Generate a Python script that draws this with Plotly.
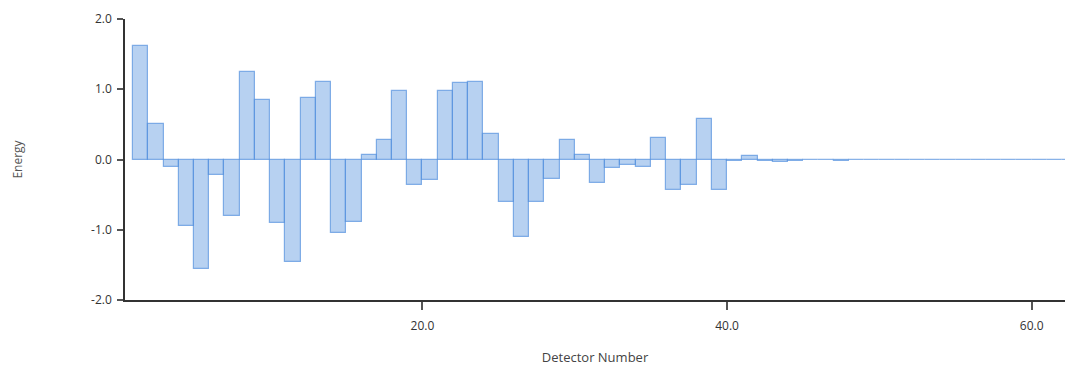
import plotly.graph_objects as go

detectors = list(range(1, 63))
energy = [
    1.61, 0.50, -0.11, -0.94, -1.56, -0.22, -0.81, 1.24, 0.85, -0.90,
    -1.46, 0.88, 1.10, -1.05, -0.89, 0.06, 0.28, 0.97, -0.36, -0.29,
    0.97, 1.09, 1.10, 0.36, -0.60, -1.10, -0.60, -0.28, 0.28, 0.06,
    -0.33, -0.12, -0.08, -0.10, 0.31, -0.44, -0.36, 0.58, -0.44, -0.02,
    0.05, -0.02, -0.03, -0.02, -0.01, -0.01, -0.02, -0.01, -0.01, -0.01,
    -0.01, -0.01, -0.01, -0.01, -0.01, -0.01, -0.01, -0.01, -0.01, -0.01,
    -0.01, -0.01,
]
x_ticks = [20, 40, 60]
x_labels = ["20.0", "40.0", "60.0"]
y_ticks = [-2, -1, 0, 1, 2]
y_labels = ["-2.0", "-1.0", "0.0", "1.0", "2.0"]

fig = go.Figure(
    go.Bar(
        x=detectors,
        y=energy,
        width=1,
        offset=0,
        marker=dict(
            color="rgba(95,152,225,0.45)",
            line=dict(color="rgba(85,145,222,0.7)", width=1.2),
        ),
    )
)

font_family = "Open Sans, Noto Sans, DejaVu Sans, sans-serif"

fig.update_layout(
    width=1065,
    height=371,
    margin=dict(l=125, r=0, t=19, b=71),
    plot_bgcolor="white",
    paper_bgcolor="white",
    showlegend=False,
    bargap=0,
    font=dict(family=font_family, size=12, color="#444"),
    xaxis=dict(
        range=[0.47, 62.19],
        automargin=False,
        tickvals=x_ticks,
        ticktext=x_labels,
        ticks="outside",
        ticklen=8,
        tickwidth=2,
        tickcolor="#555",
        ticklabelstandoff=6,
        showline=True,
        linecolor="#333",
        linewidth=1.5,
        showgrid=False,
        zeroline=False,
        tickfont=dict(size=12, color="#333"),
        title=dict(text="Detector Number", font=dict(size=13, color="#444"), standoff=20),
    ),
    yaxis=dict(
        range=[-2, 2],
        automargin=False,
        tickvals=y_ticks,
        ticktext=y_labels,
        ticks="outside",
        ticklen=6,
        tickwidth=2,
        tickcolor="#555",
        ticklabelstandoff=3,
        showline=True,
        linecolor="#333",
        linewidth=1.5,
        showgrid=False,
        zeroline=False,
        tickfont=dict(size=12, color="#333"),
        title=dict(text="Energy", font=dict(size=12, color="#555"), standoff=66),
    ),
)

fig.write_html(
    "out.html",
    config={"displayModeBar": False},
    post_script="document.body.style.margin='0';document.body.style.overflow='hidden';",
)
